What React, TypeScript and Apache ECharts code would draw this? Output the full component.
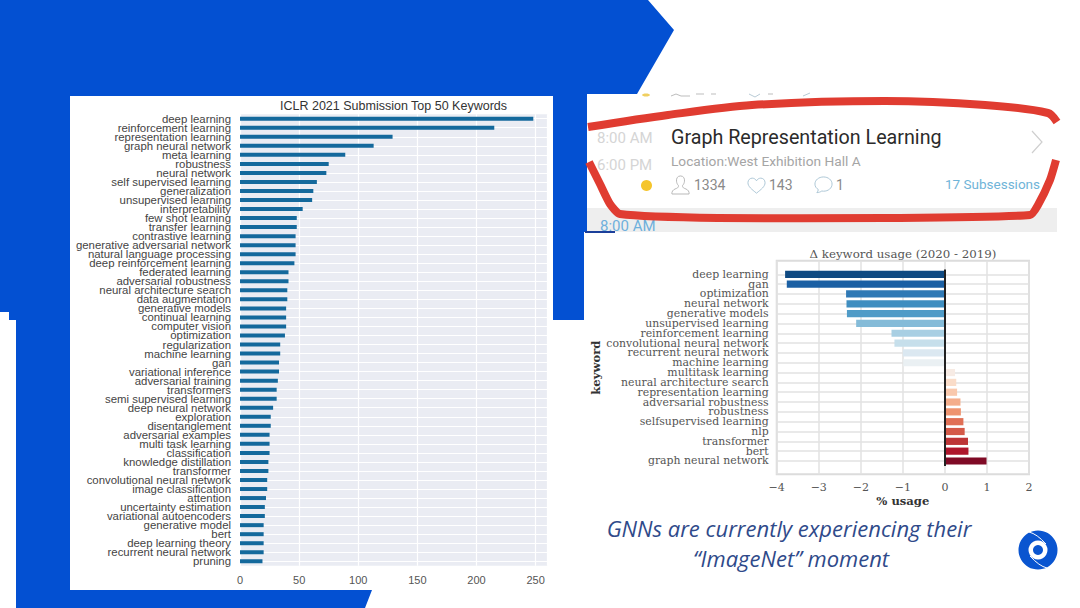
import React, { useEffect, useRef } from "react";
import * as echarts from "echarts";

const topKeywords = [
  "deep learning","reinforcement learning","representation learning","graph neural network","meta learning",
  "robustness","neural network","self supervised learning","generalization","unsupervised learning",
  "interpretability","few shot learning","transfer learning","contrastive learning","generative adversarial network",
  "natural language processing","deep reinforcement learning","federated learning","adversarial robustness","neural architecture search",
  "data augmentation","generative models","continual learning","computer vision","optimization",
  "regularization","machine learning","gan","variational inference","adversarial training",
  "transformers","semi supervised learning","deep neural network","exploration","disentanglement",
  "adversarial examples","multi task learning","classification","knowledge distillation","transformer",
  "convolutional neural network","image classification","attention","uncertainty estimation","variational autoencoders",
  "generative model","bert","deep learning theory","recurrent neural network","pruning",
];
const topCounts = [
  248,215,129,113,89,75,73,65,62,61,53,48,48,47,47,47,46,41,41,40,40,39,39,39,38,
  34,34,33,33,32,31,31,28,26,26,25,25,25,24,24,23,23,22,21,21,20,20,20,20,19,
];
const deltaKeywords = [
  "deep learning","gan","optimization","neural network","generative models","unsupervised learning",
  "reinforcement learning","convolutional neural network","recurrent neural network","machine learning",
  "multitask learning","neural architecture search","representation learning","adversarial robustness",
  "robustness","selfsupervised learning","nlp","transformer","bert","graph neural network",
];
const deltaUsage = [
  -3.8,-3.76,-2.35,-2.34,-2.33,-2.11,-1.27,-1.2,-1.0,-0.99,0.24,0.27,0.29,0.37,0.38,0.44,0.47,0.55,0.56,0.99,
];
const deltaColors = [
  "#0f4a82","#1b60a4","#2f79b5","#3f8ec0","#4f9bc7","#84bbd8","#a8cfe3","#c6dfeb","#dbe8f1","#eaf0f3",
  "#f7ebe4","#fadcc8","#f9c8ac","#f4ad8b","#ee9470","#e06f55","#d45948","#bd3436","#ae152b","#7f0a25",
];

const BLUE = "#0350d2";
const RED = "#e03c31";

echarts.graphic.registerShape("personIcon", echarts.graphic.extendPath(
  "M10 1C6.8 1 5.5 3.6 5.8 6.5C6 8.6 6.8 10 7.8 11C8 12.5 7.5 13.3 6 14C3.5 15 1.5 15.8 1 18.5L1 20L19 20L19 18.5C18.5 15.8 16.5 15 14 14C12.5 13.3 12 12.5 12.2 11C13.2 10 14 8.6 14.2 6.5C14.5 3.6 13.2 1 10 1Z", {}));
echarts.graphic.registerShape("heartIcon", echarts.graphic.extendPath(
  "M10 17C5 13 1 10 1 6C1 3 3.2 1.2 5.5 1.2C7.5 1.2 9 2.3 10 4C11 2.3 12.5 1.2 14.5 1.2C16.8 1.2 19 3 19 6C19 10 15 13 10 17Z", {}));
echarts.graphic.registerShape("bubbleIcon", echarts.graphic.extendPath(
  "M10 1C5 1 1 4.2 1 8.5C1 11 2.4 13 4.5 14.2C4.5 15.5 4 16.5 3 17.5C5 17.5 7 16.7 8.2 15.8C8.8 15.9 9.4 16 10 16C15 16 19 12.8 19 8.5C19 4.2 15 1 10 1Z", {}));

function txt(text: string, x: number, y: number, font: string, fill: string, textAlign = "left") {
  return { type: "text", x, y, z: 20, silent: true, style: { text, font, fill, textAlign, textVerticalAlign: "middle" } };
}
function faint(points: number[][], stroke = "#bdbdbd") {
  return { type: "polyline", z: 20, silent: true, shape: { points }, style: { fill: "none", stroke, lineWidth: 1 } };
}

const SANS = "Liberation Sans";
const SERIF = "DejaVu Serif";

export default function App() {
  const ref = useRef<HTMLDivElement>(null);
  useEffect(() => {
    document.body.style.margin = "0";
    const chart = echarts.init(ref.current!, null, { renderer: "svg" });
    chart.setOption({
      animation: false,
      backgroundColor: "#ffffff",
      title: [
        { text: "ICLR 2021 Submission Top 50 Keywords", left: 388.5, top: 94, textAlign: "center",
          textStyle: { fontFamily: SANS, fontSize: 12.5, fontWeight: "normal", color: "#333" } },
        { text: "Δ keyword usage (2020 - 2019)", left: 898, top: 243, textAlign: "center",
          textStyle: { fontFamily: SERIF, fontSize: 11.8, fontWeight: "normal", color: "#555" } },
      ],
      grid: [
        { left: 240, top: 114.2, width: 307.5, height: 451.6, show: true, backgroundColor: "#eaecf3", borderWidth: 0 },
        { left: 240, top: 118.7, width: 307.5, height: 442.6 },
        { left: 776.7, top: 260.7, width: 252.3, height: 213.6, show: true, backgroundColor: "#fff", borderColor: "#dcdcdc", borderWidth: 2 },
        { left: 776.7, top: 274.3, width: 252.3, height: 186.7 },
        { left: 776.7, top: 269.4, width: 252.3, height: 196.5 },
      ],
      xAxis: [
        { gridIndex: 0, type: "value", min: 0, max: 260, interval: 50, axisLine: { show: false }, axisTick: { show: false },
          splitLine: { show: true, lineStyle: { color: "#fff", width: 1.2 } },
          axisLabel: { show: true, showMaxLabel: false, margin: 9, fontFamily: SANS, fontSize: 11, color: "#555" } },
        { gridIndex: 1, type: "value", min: 0, max: 260, show: false },
        { gridIndex: 2, type: "value", min: -4, max: 2, interval: 1, axisLine: { show: false }, axisTick: { show: false },
          splitLine: { show: true, lineStyle: { color: "#e2e2e2", width: 1.5 } },
          axisLabel: { margin: 8, fontFamily: SERIF, fontSize: 11, color: "#555", formatter: (v: number) => String(v).replace("-", "\u2212") },
          name: "% usage", nameLocation: "middle", nameGap: 21,
          nameTextStyle: { fontFamily: SERIF, fontSize: 11.6, fontWeight: "bold", color: "#333" } },
        { gridIndex: 3, type: "value", min: -4, max: 2, show: false },
        { gridIndex: 4, type: "value", min: -4, max: 2, show: false },
      ],
      yAxis: [
        { gridIndex: 0, type: "category", inverse: true, data: topKeywords, axisLine: { show: false }, axisTick: { show: false }, splitLine: { show: false },
          axisLabel: { interval: 0, margin: 9, fontFamily: SANS, fontSize: 11.4, lineHeight: 10, color: "#444" } },
        { gridIndex: 1, type: "value", min: 0, max: 49, interval: 1, axisLine: { show: false }, axisTick: { show: false }, axisLabel: { show: false },
          splitLine: { show: true, lineStyle: { color: "#fff", width: 1 } } },
        { gridIndex: 2, type: "value", min: 0, max: 1, axisLine: { show: false }, axisTick: { show: false }, axisLabel: { show: false }, splitLine: { show: false } },
        { gridIndex: 3, type: "value", min: 0, max: 19, interval: 1, axisLine: { show: false }, axisTick: { show: false }, axisLabel: { show: false },
          splitLine: { show: true, lineStyle: { color: "#e2e2e2", width: 1.5 } } },
        { gridIndex: 4, type: "category", inverse: true, data: deltaKeywords, axisLine: { show: false }, axisTick: { show: false }, splitLine: { show: false },
          axisLabel: { interval: 0, margin: 8, fontFamily: SERIF, fontSize: 10.9, lineHeight: 10, color: "#555" },
          name: "keyword", nameLocation: "middle", nameGap: 174, nameRotate: 90,
          nameTextStyle: { fontFamily: SERIF, fontSize: 11.6, fontWeight: "bold", color: "#333" } },
      ],
      series: [
        { type: "bar", xAxisIndex: 0, yAxisIndex: 0, data: topCounts, barWidth: 4, itemStyle: { color: "#14699c" }, silent: true },
        { type: "bar", xAxisIndex: 4, yAxisIndex: 4, barWidth: 7.2, silent: true,
          data: deltaUsage.map((value, i) => ({ value, itemStyle: { color: deltaColors[i] } })),
          markLine: { silent: true, symbol: "none", label: { show: false },
            lineStyle: { color: "#222", width: 2, type: "solid" }, data: [{ xAxis: 0 }] } },
      ],
      graphic: { elements: [
        { type: "polygon", z: -10, silent: true, shape: { points: [
          [0,0],[648,0],[674,30],[637,94],[587,94],[587,232],[584,232],[584,320],[553,320],[553,96],
          [70,96],[70,590],[372,590],[365,608],[16,608],[16,320],[9,320],[9,312],[0,312],
        ] }, style: { fill: BLUE } },
        { type: "rect", z: 5, silent: true, shape: { x: 587, y: 208, width: 470, height: 24 }, style: { fill: "#eeeeee" } },
        { type: "rect", z: 5, silent: true, shape: { x: 585, y: 231, width: 30, height: 2 }, style: { fill: "#1b3f9a" } },
        // scraps of the row above the card
        { type: "ellipse", z: 20, silent: true, shape: { cx: 646, cy: 95, rx: 4, ry: 1.5 }, style: { fill: "#f0cf60" } },
        faint([[671,96],[676,94],[681,96],[690,96]]),
        faint([[696,94],[704,94]]),
        faint([[711,94],[716,94]]),
        faint([[749,94],[755,97],[760,94]], "#b9cbd6"),
        faint([[768,94],[773,94]]),
        faint([[803,96],[810,93]], "#b9cbd6"),
        // card contents
        txt("8:00 AM", 600, 226, "15px Roboto", "#6fb0dc"),
        txt("8:00 AM", 597, 138, "15px Roboto", "#d5d5d5"),
        txt("6:00 PM", 597, 165, "15px Roboto", "#d5d5d5"),
        { type: "circle", z: 20, silent: true, shape: { cx: 646.5, cy: 185.5, r: 5.5 }, style: { fill: "#f5c52c" } },
        txt("Graph Representation Learning", 671, 137.5, "19.7px Roboto", "#2b2b2b"),
        txt("Location:West Exhibition Hall A", 671, 161, "13.7px Roboto", "#a5a5a5"),
        { type: "personIcon", z: 20, silent: true, x: 671, y: 175, scaleX: 0.95, scaleY: 0.95, style: { fill: "none", stroke: "#b5b5b5", lineWidth: 1 } },
        txt("1334", 694, 185, "14px Roboto", "#8a8a8a"),
        { type: "heartIcon", z: 20, silent: true, x: 747, y: 177, scaleX: 0.95, scaleY: 0.95, style: { fill: "none", stroke: "#a9c4d4", lineWidth: 1 } },
        txt("143", 769, 185, "14px Roboto", "#8a8a8a"),
        { type: "bubbleIcon", z: 20, silent: true, x: 814, y: 176, scaleX: 0.95, scaleY: 0.95, style: { fill: "none", stroke: "#a9c4d4", lineWidth: 1 } },
        txt("1", 836, 185, "14px Roboto", "#8a8a8a"),
        txt("17 Subsessions", 945, 184, "13.5px Roboto", "#6fb4d8"),
        { type: "polyline", z: 20, silent: true, shape: { points: [[1032,131],[1042,142],[1032,153]] }, style: { fill: "none", stroke: "#cfcfcf", lineWidth: 1.2 } },
        // red hand-drawn loop
        { type: "polyline", z: 30, silent: true, shape: { smooth: 0.3, points: [
          [588,127],[668,115],[752,105],[885,101],[985,105],[1048,113],[1057,122],
        ] }, style: { fill: "none", stroke: RED, lineWidth: 8 } },
        { type: "polyline", z: 30, silent: true, shape: { smooth: 0.2, points: [
          [1056,160],[1050,180],[1038,205],[1030,215],[885,218],[718,218],[620,214],[610,204],[600,184],[589,162],
        ] }, style: { fill: "none", stroke: RED, lineWidth: 8 } },
        // caption
        txt("GNNs are currently experiencing their", 789, 528, "italic 22px 'Open Sans'", "#2f4a8a", "center"),
        txt("\u201CImageNet\u201D moment", 791, 558, "italic 22px 'Open Sans'", "#2f4a8a", "center"),
        // logo
        { type: "circle", z: 20, silent: true, shape: { cx: 1038, cy: 550, r: 19.5 }, style: { fill: "#0a55d0" } },
        { type: "ring", z: 21, silent: true, shape: { cx: 1038, cy: 550, r: 9.5, r0: 5 }, style: { fill: "#fff" } },
        { type: "bezierCurve", z: 21, silent: true, shape: { x1: 1029, y1: 532, cpx1: 1037, cpy1: 534, x2: 1046, y2: 544 }, style: { fill: "none", stroke: "#fff", lineWidth: 1 } },
        { type: "bezierCurve", z: 21, silent: true, shape: { x1: 1047, y1: 568, cpx1: 1039, cpy1: 566, x2: 1030, y2: 556 }, style: { fill: "none", stroke: "#fff", lineWidth: 1 } },
      ] },
    });
    return () => chart.dispose();
  }, []);
  return <div ref={ref} style={{ position: "absolute", left: 0, top: 0, width: 1080, height: 608, overflow: "hidden" }} />;
}
